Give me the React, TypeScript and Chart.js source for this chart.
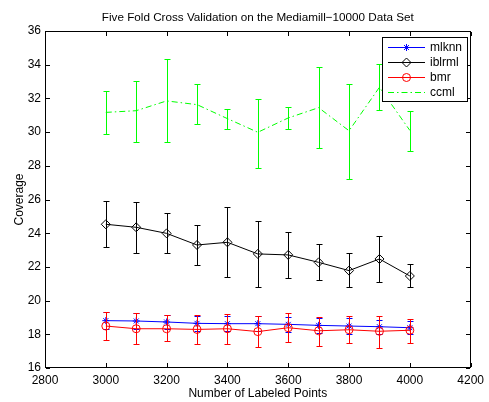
import React, { useEffect, useRef } from "react";
import { Chart, registerables } from "chart.js";

Chart.register(...registerables);

const xValues = [3000, 3100, 3200, 3300, 3400, 3500, 3600, 3700, 3800, 3900, 4000];

const mlknnMean = [18.81, 18.79, 18.73, 18.65, 18.63, 18.63, 18.59, 18.53, 18.49, 18.45, 18.39];
const mlknnErr = [0.5, 0.46, 0.44, 0.45, 0.46, 0.46, 0.46, 0.45, 0.45, 0.42, 0.4];

const iblrmlMean = [24.53, 24.35, 23.99, 23.3, 23.46, 22.77, 22.71, 22.27, 21.78, 22.47, 21.46];
const iblrmlLow = [23.16, 22.84, 22.8, 22.1, 21.38, 20.83, 21.36, 21.2, 20.78, 21.1, 20.78];
const iblrmlHigh = [25.89, 25.85, 25.22, 24.47, 25.54, 24.72, 24.09, 23.38, 22.8, 23.85, 22.19];

const bmrMean = [18.49, 18.33, 18.33, 18.29, 18.33, 18.16, 18.39, 18.21, 18.27, 18.18, 18.24];
const bmrLow = [17.66, 17.42, 17.58, 17.42, 17.44, 17.23, 17.56, 17.32, 17.47, 17.19, 17.5];
const bmrHigh = [19.34, 19.26, 19.15, 19.13, 19.22, 19.09, 19.26, 19.05, 19.09, 19.11, 18.91];

const ccmlMean = [31.17, 31.27, 31.85, 31.63, 30.8, 29.99, 30.84, 31.45, 30.08, 32.66, 30.1];
const ccmlLow = [29.9, 29.41, 29.39, 30.46, 30.16, 27.89, 30.18, 29.04, 27.24, 31.31, 28.88];
const ccmlHigh = [32.42, 33.05, 34.32, 32.84, 31.39, 31.98, 31.51, 33.86, 32.84, 34.02, 31.27];

const xTicks = [2800, 3000, 3200, 3400, 3600, 3800, 4000, 4200];
const yTicks = [16, 18, 20, 22, 24, 26, 28, 30, 32, 34, 36];

const seriesNames = ["mlknn", "iblrml", "bmr", "ccml"];

const FONT = "'Liberation Sans', Arial, Helvetica, sans-serif";
const BLUE = "#0000ff";
const BLACK = "#000000";
const RED = "#ff0000";
const GREEN = "#00ff00";
const DASHDOT = [6, 3, 1.5, 3];

const errLow = [
  mlknnMean.map((v, i) => v - mlknnErr[i]),
  iblrmlLow,
  bmrLow,
  ccmlLow,
];
const errHigh = [
  mlknnMean.map((v, i) => v + mlknnErr[i]),
  iblrmlHigh,
  bmrHigh,
  ccmlHigh,
];
const colors = [BLUE, BLACK, RED, GREEN];

const errorBarPlugin = {
  id: "errorBars",
  beforeDatasetDraw(chart: any, args: any) {
    const i = args.index;
    const { ctx, scales } = chart;
    const xs = scales.x;
    const ys = scales.y;
    ctx.save();
    ctx.strokeStyle = colors[i];
    ctx.lineWidth = 1;
    ctx.setLineDash([]);
    const cap = 3;
    xValues.forEach((xv, k) => {
      const px = Math.round(xs.getPixelForValue(xv)) + 0.5;
      const lo = Math.round(ys.getPixelForValue(errLow[i][k])) + 0.5;
      const hi = Math.round(ys.getPixelForValue(errHigh[i][k])) + 0.5;
      ctx.beginPath();
      ctx.moveTo(px, lo);
      ctx.lineTo(px, hi);
      ctx.moveTo(px - cap, lo);
      ctx.lineTo(px + cap, lo);
      ctx.moveTo(px - cap, hi);
      ctx.lineTo(px + cap, hi);
      ctx.stroke();
    });
    ctx.restore();
  },
};

const framePlugin = {
  id: "axesFrame",
  afterDraw(chart: any) {
    const { ctx, chartArea, scales } = chart;
    const { left, right, top, bottom } = chartArea;
    ctx.save();
    ctx.setLineDash([]);
    ctx.fillStyle = "#000";
    const L = Math.round(left);
    const R = Math.round(right) - 1;
    const T = Math.round(top);
    const B = Math.round(bottom) - 1;
    // frame
    ctx.fillRect(L, T, R - L + 1, 1);
    ctx.fillRect(L, B, R - L + 1, 1);
    ctx.fillRect(L, T, 1, B - T + 1);
    ctx.fillRect(R, T, 1, B - T + 1);
    const tl = 4;
    xTicks.forEach((v) => {
      const px = Math.round(scales.x.getPixelForValue(v));
      ctx.fillRect(px, B - tl, 1, tl);
      ctx.fillRect(px, T + 1, 1, tl);
    });
    yTicks.forEach((v) => {
      const py = Math.round(scales.y.getPixelForValue(v));
      ctx.fillRect(L + 1, py, tl, 1);
      ctx.fillRect(R - tl, py, tl, 1);
    });

    // Title
    ctx.fillStyle = "#000";
    ctx.font = `11.7px ${FONT}`;
    ctx.textAlign = "center";
    ctx.textBaseline = "alphabetic";
    ctx.fillText(
      "Five Fold Cross Validation on the Mediamill\u221210000 Data Set",
      (left + right) / 2,
      21
    );
    ctx.font = `12px ${FONT}`;
    // X axis title
    ctx.fillText("Number of Labeled Points", (left + right) / 2, 397);
    // Y axis title
    ctx.save();
    ctx.translate(23, (top + bottom) / 2);
    ctx.rotate(-Math.PI / 2);
    ctx.fillText("Coverage", 0, 0);
    ctx.restore();

    // Legend
    const bx = 382, by = 37, bw = 86, bh = 65;
    ctx.fillStyle = "#fff";
    ctx.fillRect(bx, by, bw, bh);
    ctx.fillStyle = "#000";
    ctx.fillRect(bx, by, bw, 1);
    ctx.fillRect(bx, by + bh - 1, bw, 1);
    ctx.fillRect(bx, by, 1, bh);
    ctx.fillRect(bx + bw - 1, by, 1, bh);
    const rows = [47, 62, 77, 92];
    seriesNames.forEach((name, i) => {
      const y = rows[i] + 0.5;
      ctx.strokeStyle = colors[i];
      ctx.lineWidth = 1;
      ctx.setLineDash(i === 3 ? DASHDOT : []);
      ctx.beginPath();
      ctx.moveTo(388, y);
      ctx.lineTo(425, y);
      ctx.stroke();
      ctx.setLineDash([]);
      const mx = 406.5;
      ctx.beginPath();
      if (i === 0) {
        const r = 3.5;
        ctx.moveTo(mx - r, y); ctx.lineTo(mx + r, y);
        ctx.moveTo(mx, y - r); ctx.lineTo(mx, y + r);
        const d = r * 0.7071;
        ctx.moveTo(mx - d, y - d); ctx.lineTo(mx + d, y + d);
        ctx.moveTo(mx - d, y + d); ctx.lineTo(mx + d, y - d);
        ctx.stroke();
      } else if (i === 1) {
        const r = 4.5;
        ctx.moveTo(mx - r, y); ctx.lineTo(mx, y - r); ctx.lineTo(mx + r, y); ctx.lineTo(mx, y + r);
        ctx.closePath();
        ctx.stroke();
      } else if (i === 2) {
        ctx.arc(mx, y, 4, 0, Math.PI * 2);
        ctx.stroke();
      }
      ctx.fillStyle = "#000";
      ctx.font = `12px ${FONT}`;
      ctx.textAlign = "left";
      ctx.textBaseline = "middle";
      ctx.fillText(name, 430, y);
    });
    ctx.restore();
  },
};

export default function App() {
  const ref = useRef<HTMLCanvasElement | null>(null);
  useEffect(() => {
    document.body.style.margin = "0";
    if (!ref.current) return;
    const mk = (data: number[], color: string, style: any, radius: number, order: number, dash: number[] = []) => ({
      data: xValues.map((x, i) => ({ x, y: data[i] })),
      borderColor: color,
      backgroundColor: "transparent",
      borderWidth: 1,
      borderDash: dash,
      pointStyle: style,
      pointRadius: radius,
      pointBorderColor: color,
      pointBackgroundColor: "transparent",
      pointBorderWidth: 1,
      tension: 0,
      order,
    });
    const chart = new Chart(ref.current, {
      type: "line",
      data: {
        datasets: [
          { label: "mlknn", ...mk(mlknnMean, BLUE, "star", 3.5, 4) },
          { label: "iblrml", ...mk(iblrmlMean, BLACK, "rectRot", 4.5, 3) },
          { label: "bmr", ...mk(bmrMean, RED, "circle", 4, 2) },
          { label: "ccml", ...mk(ccmlMean, GREEN, false, 0, 1, DASHDOT) },
        ],
      },
      options: {
        animation: false,
        responsive: false,
        devicePixelRatio: 1,
        layout: { padding: { left: 0, right: 16, top: 31, bottom: 0 } },
        plugins: { legend: { display: false }, title: { display: false }, tooltip: { enabled: false } },
        events: [],
        scales: {
          x: {
            type: "linear",
            min: 2800,
            max: 4200,
            afterBuildTicks: (s: any) => { s.ticks = xTicks.map((v) => ({ value: v })); },
            afterFit: (s: any) => { s.height = 34; },
            grid: { display: false, drawTicks: false, tickLength: 0 },
            border: { display: false },
            ticks: { color: "#000", font: { family: FONT, size: 12 }, padding: 5, maxRotation: 0, autoSkip: false, callback: (v: any) => String(v) },
          },
          y: {
            type: "linear",
            min: 16,
            max: 36,
            afterBuildTicks: (s: any) => { s.ticks = yTicks.map((v) => ({ value: v })); },
            afterFit: (s: any) => { s.width = 45; },
            grid: { display: false, drawTicks: false, tickLength: 0 },
            border: { display: false },
            ticks: { color: "#000", font: { family: FONT, size: 12 }, padding: 4, autoSkip: false, callback: (v: any) => String(v) },
          },
        },
      },
      plugins: [errorBarPlugin, framePlugin],
    });
    return () => chart.destroy();
  }, []);
  return (
    <div style={{ position: "absolute", left: 0, top: 0, width: 489, height: 402, background: "#fff" }}>
      <canvas ref={ref} width={489} height={402} style={{ width: 489, height: 402 }} />
    </div>
  );
}
